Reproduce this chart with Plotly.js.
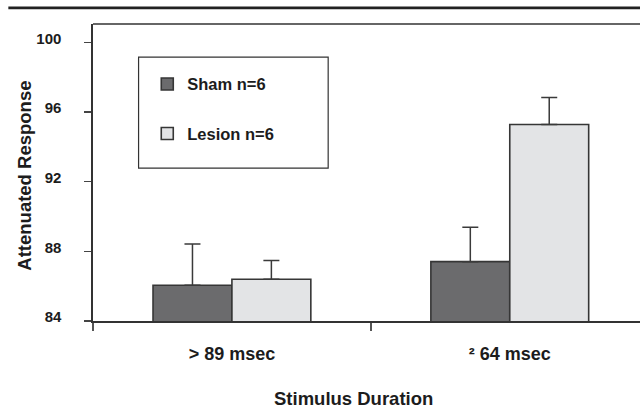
<!DOCTYPE html>
<html>
<head>
<meta charset="utf-8">
<script src="https://cdn.plot.ly/plotly-3.0.1.min.js"></script>
<style>
  html, body { margin: 0; padding: 0; background: #ffffff; overflow: hidden; }
  #chart { width: 640px; height: 409px; }
</style>
</head>
<body>
<div id="chart"></div>
<script>
// ---- data ----
var categories = ['> 89 msec', '\u00B2 64 msec'];
var seriesNames = ['Sham n=6', 'Lesion n=6'];
var shamValues = [86.05, 87.41];
var shamErrors = [2.38, 1.98];
var lesionValues = [86.40, 95.29];
var lesionErrors = [1.07, 1.55];
var yTickValues = [84, 88, 92, 96, 100];
var xAxisTitle = 'Stimulus Duration';
var yAxisTitle = 'Attenuated Response';

// ---- geometry helpers (pixel -> paper) ----
var W = 640, H = 409;
var mL = 92.7, mT = 24.3, mB = H - 321, mR = 0;
var plotW = W - mL - mR, plotH = H - mT - mB;
function px(x) { return (x - mL) / plotW; }
function py(y) { return (H - mB - y) / plotH; }
var catWidthPx = 278;

var FONT = 'Liberation Sans, Arial, Helvetica, sans-serif';
var INK = '#1c1c1c';
var EDGE = '#363636';

var traces = [
  {
    type: 'bar', name: seriesNames[0], x: categories, y: shamValues,
    marker: { color: '#6b6b6d', line: { color: EDGE, width: 1.6 } },
    error_y: { type: 'data', array: shamErrors, arrayminus: [0, 0], symmetric: false,
               color: '#3a3a3a', thickness: 1.5, width: 8 },
    legend: 'legend'
  },
  {
    type: 'bar', name: seriesNames[1], x: categories, y: lesionValues,
    marker: { color: '#e3e4e6', line: { color: EDGE, width: 1.6 } },
    error_y: { type: 'data', array: lesionErrors, arrayminus: [0, 0], symmetric: false,
               color: '#3a3a3a', thickness: 1.5, width: 8 },
    legend: 'legend2'
  }
];

var legendCommon = {
  bgcolor: 'rgba(0,0,0,0)', borderwidth: 0,
  font: { family: FONT, size: 16.5, color: INK, weight: 'bold' },
  xanchor: 'left', yanchor: 'middle'
};

var layout = {
  width: W, height: H,
  margin: { l: mL, r: mR, t: mT, b: mB, pad: 0 },
  paper_bgcolor: '#ffffff', plot_bgcolor: '#ffffff',
  barmode: 'group', bargap: 0.432, bargroupgap: 0,
  font: { family: FONT, color: INK, weight: 'bold' },
  showlegend: true,
  legend: Object.assign({}, legendCommon, { x: px(147), y: py(84.5) }),
  legend2: Object.assign({}, legendCommon, { x: px(147), y: py(134) }),
  xaxis: {
    type: 'category',
    range: [-0.5, -0.5 + plotW / catWidthPx],
    showline: true, linecolor: '#333333', linewidth: 1.6,
    ticks: 'outside', tickson: 'boundaries', ticklen: 8, tickwidth: 1.6, tickcolor: '#555555',
    tickfont: { family: FONT, size: 18, color: INK, weight: 'bold' },
    ticklabelstandoff: 16,
    showgrid: false, zeroline: false, fixedrange: true
  },
  yaxis: {
    range: [84, 84 + 296.7 / 17.39],
    tickmode: 'array', tickvals: yTickValues, ticktext: yTickValues.map(String),
    showline: true, linecolor: '#333333', linewidth: 1.6,
    ticks: 'outside', ticklen: 7, tickwidth: 1.5, tickcolor: '#444444',
    tickfont: { family: FONT, size: 15, color: INK, weight: 'bold' },
    ticklabelstandoff: 20, ticklabelshift: -4,
    showgrid: false, zeroline: false, fixedrange: true
  },
  shapes: [
    // thick rule across the top of the figure
    { type: 'line', xref: 'paper', yref: 'paper', x0: px(8), x1: 1.05, y0: py(8.2), y1: py(8.2),
      line: { color: '#222222', width: 2.6 } },
    // top frame of plot area
    { type: 'line', xref: 'paper', yref: 'paper', x0: 0, x1: 1.05, y0: 1, y1: 1,
      line: { color: '#333333', width: 1.5 } },
    // legend box
    { type: 'rect', xref: 'paper', yref: 'paper', x0: px(138.3), x1: px(328), y0: py(168.3), y1: py(57.3),
      line: { color: '#333333', width: 1.2 }, fillcolor: 'rgba(0,0,0,0)' }
  ],
  annotations: [
    { text: xAxisTitle, xref: 'paper', yref: 'paper', x: px(353.3), y: py(398),
      xanchor: 'center', yanchor: 'middle', showarrow: false,
      font: { family: FONT, size: 18.5, color: INK, weight: 'bold' } },
    { text: yAxisTitle, xref: 'paper', yref: 'paper', x: px(24.5), y: py(176),
      xanchor: 'center', yanchor: 'middle', showarrow: false, textangle: -90,
      font: { family: FONT, size: 18.5, color: INK, weight: 'bold' } }
  ]
};

Plotly.newPlot('chart', traces, layout, { displayModeBar: false, staticPlot: true });
</script>
</body>
</html>
